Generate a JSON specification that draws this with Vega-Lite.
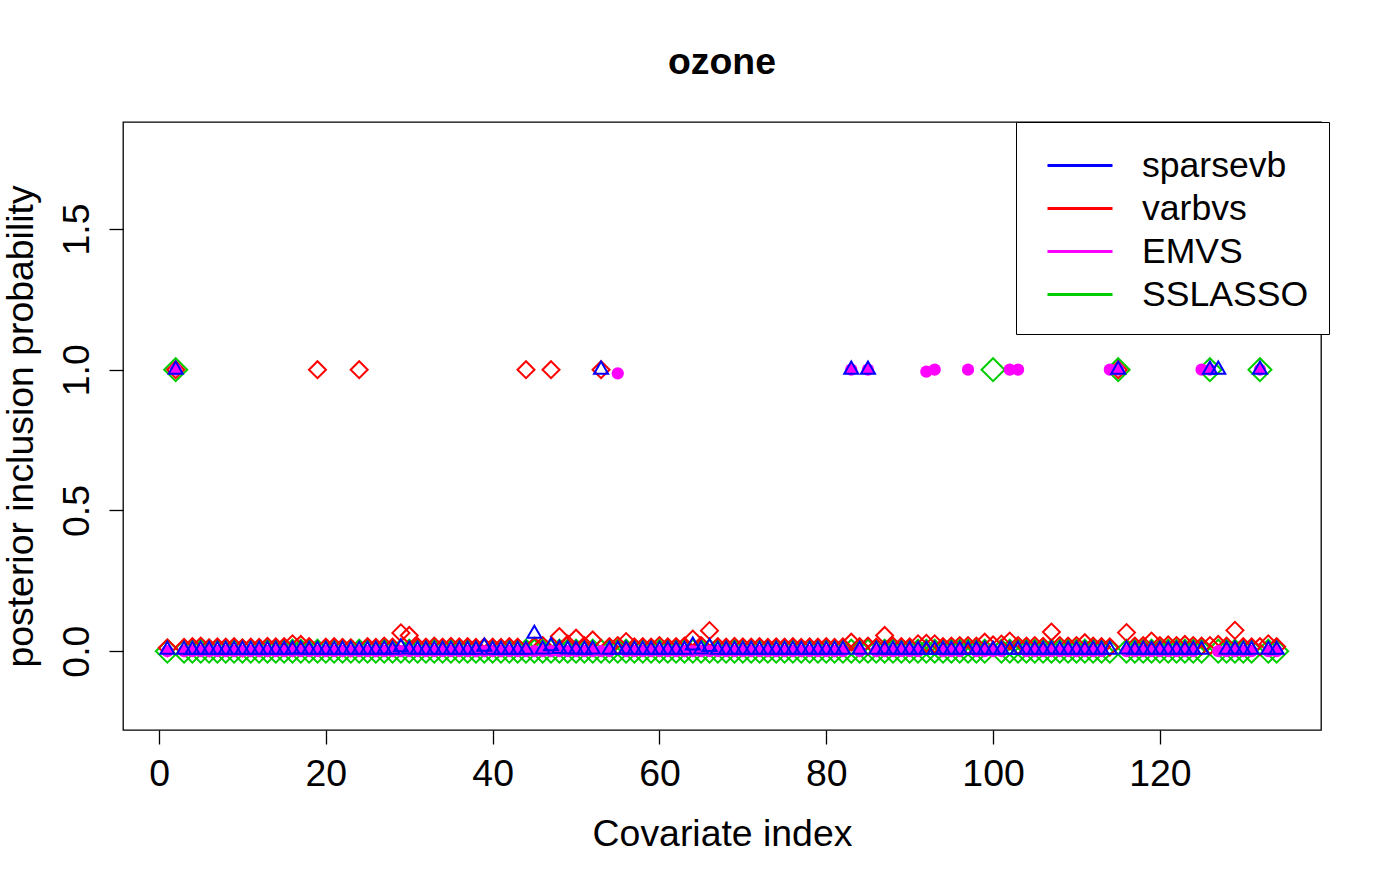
{
  "$schema": "https://vega.github.io/schema/vega-lite/v6.json",
  "width": 1198,
  "height": 608,
  "autosize": {"type": "none"},
  "padding": {"left": 123, "top": 122, "right": 63, "bottom": 154},
  "background": "white",
  "title": {"text": "ozone", "fontSize": 37.4, "fontWeight": "bold", "font": "Liberation Sans", "color": "black", "anchor": "middle", "baseline": "alphabetic", "offset": 10},
  "data": {"values": [
    {"i":1,"sparsevb":0.005,"varbvs":0.012,"EMVS":0,"SSLASSO":0},
    {"i":2,"sparsevb":1,"varbvs":1,"EMVS":1,"SSLASSO":1},
    {"i":3,"sparsevb":0.005,"varbvs":0.013,"EMVS":0,"SSLASSO":0},
    {"i":4,"sparsevb":0.005,"varbvs":0.016,"EMVS":0,"SSLASSO":0},
    {"i":5,"sparsevb":0.005,"varbvs":0.018,"EMVS":0,"SSLASSO":0},
    {"i":6,"sparsevb":0.005,"varbvs":0.012,"EMVS":0,"SSLASSO":0},
    {"i":7,"sparsevb":0.005,"varbvs":0.015,"EMVS":0,"SSLASSO":0},
    {"i":8,"sparsevb":0.005,"varbvs":0.014,"EMVS":0,"SSLASSO":0},
    {"i":9,"sparsevb":0.005,"varbvs":0.016,"EMVS":0,"SSLASSO":0},
    {"i":10,"sparsevb":0.005,"varbvs":0.012,"EMVS":0,"SSLASSO":0},
    {"i":11,"sparsevb":0.005,"varbvs":0.014,"EMVS":0,"SSLASSO":0},
    {"i":12,"sparsevb":0.005,"varbvs":0.013,"EMVS":0,"SSLASSO":0},
    {"i":13,"sparsevb":0.005,"varbvs":0.017,"EMVS":0,"SSLASSO":0},
    {"i":14,"sparsevb":0.005,"varbvs":0.015,"EMVS":0,"SSLASSO":0},
    {"i":15,"sparsevb":0.005,"varbvs":0.016,"EMVS":0,"SSLASSO":0},
    {"i":16,"sparsevb":0.006,"varbvs":0.026,"EMVS":0,"SSLASSO":0},
    {"i":17,"sparsevb":0.006,"varbvs":0.024,"EMVS":0,"SSLASSO":0},
    {"i":18,"sparsevb":0.005,"varbvs":0.016,"EMVS":0,"SSLASSO":0},
    {"i":19,"sparsevb":0.005,"varbvs":1,"EMVS":0,"SSLASSO":0},
    {"i":20,"sparsevb":0.005,"varbvs":0.014,"EMVS":0,"SSLASSO":0},
    {"i":21,"sparsevb":0.005,"varbvs":0.016,"EMVS":0,"SSLASSO":0},
    {"i":22,"sparsevb":0.005,"varbvs":0.013,"EMVS":0,"SSLASSO":0},
    {"i":23,"sparsevb":0.005,"varbvs":0.012,"EMVS":0,"SSLASSO":0},
    {"i":24,"sparsevb":0.005,"varbvs":1,"EMVS":0,"SSLASSO":0},
    {"i":25,"sparsevb":0.005,"varbvs":0.016,"EMVS":0,"SSLASSO":0},
    {"i":26,"sparsevb":0.005,"varbvs":0.013,"EMVS":0,"SSLASSO":0},
    {"i":27,"sparsevb":0.006,"varbvs":0.018,"EMVS":0,"SSLASSO":0},
    {"i":28,"sparsevb":0.005,"varbvs":0.014,"EMVS":0,"SSLASSO":0},
    {"i":29,"sparsevb":0.014,"varbvs":0.065,"EMVS":0,"SSLASSO":0},
    {"i":30,"sparsevb":0.006,"varbvs":0.056,"EMVS":0,"SSLASSO":0},
    {"i":31,"sparsevb":0.005,"varbvs":0.016,"EMVS":0,"SSLASSO":0},
    {"i":32,"sparsevb":0.005,"varbvs":0.014,"EMVS":0,"SSLASSO":0},
    {"i":33,"sparsevb":0.005,"varbvs":0.018,"EMVS":0,"SSLASSO":0},
    {"i":34,"sparsevb":0.005,"varbvs":0.014,"EMVS":0,"SSLASSO":0},
    {"i":35,"sparsevb":0.005,"varbvs":0.017,"EMVS":0,"SSLASSO":0},
    {"i":36,"sparsevb":0.005,"varbvs":0.015,"EMVS":0,"SSLASSO":0},
    {"i":37,"sparsevb":0.005,"varbvs":0.016,"EMVS":0,"SSLASSO":0},
    {"i":38,"sparsevb":0.005,"varbvs":0.013,"EMVS":0,"SSLASSO":0},
    {"i":39,"sparsevb":0.016,"varbvs":0.015,"EMVS":0,"SSLASSO":0},
    {"i":40,"sparsevb":0.005,"varbvs":0.014,"EMVS":0,"SSLASSO":0},
    {"i":41,"sparsevb":0.005,"varbvs":0.013,"EMVS":0,"SSLASSO":0},
    {"i":42,"sparsevb":0.005,"varbvs":0.016,"EMVS":0,"SSLASSO":0},
    {"i":43,"sparsevb":0.005,"varbvs":0.014,"EMVS":0,"SSLASSO":0},
    {"i":44,"sparsevb":0.005,"varbvs":1,"EMVS":0,"SSLASSO":0},
    {"i":45,"sparsevb":0.062,"varbvs":0.018,"EMVS":0,"SSLASSO":0},
    {"i":46,"sparsevb":0.006,"varbvs":0.02,"EMVS":0,"SSLASSO":0},
    {"i":47,"sparsevb":0.018,"varbvs":1,"EMVS":0,"SSLASSO":0},
    {"i":48,"sparsevb":0.008,"varbvs":0.052,"EMVS":0,"SSLASSO":0},
    {"i":49,"sparsevb":0.006,"varbvs":0.025,"EMVS":0,"SSLASSO":0},
    {"i":50,"sparsevb":0.006,"varbvs":0.046,"EMVS":0,"SSLASSO":0},
    {"i":51,"sparsevb":0.005,"varbvs":0.02,"EMVS":0,"SSLASSO":0},
    {"i":52,"sparsevb":0.006,"varbvs":0.04,"EMVS":0,"SSLASSO":0},
    {"i":53,"sparsevb":1,"varbvs":1,"EMVS":0,"SSLASSO":0},
    {"i":54,"sparsevb":0.005,"varbvs":0.016,"EMVS":0,"SSLASSO":0},
    {"i":55,"sparsevb":0.005,"varbvs":0.02,"EMVS":0.987,"SSLASSO":0},
    {"i":56,"sparsevb":0.006,"varbvs":0.034,"EMVS":0,"SSLASSO":0},
    {"i":57,"sparsevb":0.005,"varbvs":0.015,"EMVS":0,"SSLASSO":0},
    {"i":58,"sparsevb":0.005,"varbvs":0.016,"EMVS":0,"SSLASSO":0},
    {"i":59,"sparsevb":0.005,"varbvs":0.014,"EMVS":0,"SSLASSO":0},
    {"i":60,"sparsevb":0.005,"varbvs":0.02,"EMVS":0,"SSLASSO":0},
    {"i":61,"sparsevb":0.005,"varbvs":0.015,"EMVS":0,"SSLASSO":0},
    {"i":62,"sparsevb":0.005,"varbvs":0.016,"EMVS":0,"SSLASSO":0},
    {"i":63,"sparsevb":0.005,"varbvs":0.018,"EMVS":0,"SSLASSO":0},
    {"i":64,"sparsevb":0.02,"varbvs":0.043,"EMVS":0,"SSLASSO":0},
    {"i":65,"sparsevb":0.006,"varbvs":0.02,"EMVS":0,"SSLASSO":0},
    {"i":66,"sparsevb":0.015,"varbvs":0.073,"EMVS":0,"SSLASSO":0},
    {"i":67,"sparsevb":0.005,"varbvs":0.016,"EMVS":0,"SSLASSO":0},
    {"i":68,"sparsevb":0.005,"varbvs":0.014,"EMVS":0,"SSLASSO":0},
    {"i":69,"sparsevb":0.005,"varbvs":0.017,"EMVS":0,"SSLASSO":0},
    {"i":70,"sparsevb":0.005,"varbvs":0.015,"EMVS":0,"SSLASSO":0},
    {"i":71,"sparsevb":0.005,"varbvs":0.014,"EMVS":0,"SSLASSO":0},
    {"i":72,"sparsevb":0.005,"varbvs":0.016,"EMVS":0,"SSLASSO":0},
    {"i":73,"sparsevb":0.005,"varbvs":0.013,"EMVS":0,"SSLASSO":0},
    {"i":74,"sparsevb":0.005,"varbvs":0.015,"EMVS":0,"SSLASSO":0},
    {"i":75,"sparsevb":0.005,"varbvs":0.014,"EMVS":0,"SSLASSO":0},
    {"i":76,"sparsevb":0.005,"varbvs":0.016,"EMVS":0,"SSLASSO":0},
    {"i":77,"sparsevb":0.005,"varbvs":0.013,"EMVS":0,"SSLASSO":0},
    {"i":78,"sparsevb":0.005,"varbvs":0.015,"EMVS":0,"SSLASSO":0},
    {"i":79,"sparsevb":0.005,"varbvs":0.014,"EMVS":0,"SSLASSO":0},
    {"i":80,"sparsevb":0.005,"varbvs":0.016,"EMVS":0,"SSLASSO":0},
    {"i":81,"sparsevb":0.005,"varbvs":0.013,"EMVS":0,"SSLASSO":0},
    {"i":82,"sparsevb":0.005,"varbvs":0.015,"EMVS":0,"SSLASSO":0},
    {"i":83,"sparsevb":1,"varbvs":0.032,"EMVS":1,"SSLASSO":0},
    {"i":84,"sparsevb":0.005,"varbvs":0.016,"EMVS":0,"SSLASSO":0},
    {"i":85,"sparsevb":1,"varbvs":0.018,"EMVS":1,"SSLASSO":0},
    {"i":86,"sparsevb":0.005,"varbvs":0.014,"EMVS":0,"SSLASSO":0},
    {"i":87,"sparsevb":0.006,"varbvs":0.056,"EMVS":0,"SSLASSO":0},
    {"i":88,"sparsevb":0.005,"varbvs":0.018,"EMVS":0,"SSLASSO":0},
    {"i":89,"sparsevb":0.005,"varbvs":0.016,"EMVS":0,"SSLASSO":0},
    {"i":90,"sparsevb":0.005,"varbvs":0.015,"EMVS":0,"SSLASSO":0},
    {"i":91,"sparsevb":0.005,"varbvs":0.026,"EMVS":0,"SSLASSO":0},
    {"i":92,"sparsevb":0.005,"varbvs":0.028,"EMVS":0.993,"SSLASSO":0},
    {"i":93,"sparsevb":0.005,"varbvs":0.026,"EMVS":1,"SSLASSO":0},
    {"i":94,"sparsevb":0.005,"varbvs":0.016,"EMVS":0,"SSLASSO":0},
    {"i":95,"sparsevb":0.005,"varbvs":0.018,"EMVS":0,"SSLASSO":0},
    {"i":96,"sparsevb":0.005,"varbvs":0.02,"EMVS":0,"SSLASSO":0},
    {"i":97,"sparsevb":0.005,"varbvs":0.02,"EMVS":1,"SSLASSO":0},
    {"i":98,"sparsevb":0.005,"varbvs":0.018,"EMVS":0,"SSLASSO":0},
    {"i":99,"sparsevb":0.005,"varbvs":0.032,"EMVS":0,"SSLASSO":0},
    {"i":100,"sparsevb":0.005,"varbvs":0.022,"EMVS":0,"SSLASSO":1},
    {"i":101,"sparsevb":0.005,"varbvs":0.025,"EMVS":0,"SSLASSO":0},
    {"i":102,"sparsevb":0.005,"varbvs":0.036,"EMVS":1,"SSLASSO":0},
    {"i":103,"sparsevb":0.005,"varbvs":0.02,"EMVS":1,"SSLASSO":0},
    {"i":104,"sparsevb":0.005,"varbvs":0.018,"EMVS":0,"SSLASSO":0},
    {"i":105,"sparsevb":0.005,"varbvs":0.02,"EMVS":0,"SSLASSO":0},
    {"i":106,"sparsevb":0.005,"varbvs":0.017,"EMVS":0,"SSLASSO":0},
    {"i":107,"sparsevb":0.006,"varbvs":0.068,"EMVS":0,"SSLASSO":0},
    {"i":108,"sparsevb":0.005,"varbvs":0.02,"EMVS":0,"SSLASSO":0},
    {"i":109,"sparsevb":0.005,"varbvs":0.018,"EMVS":0,"SSLASSO":0},
    {"i":110,"sparsevb":0.005,"varbvs":0.02,"EMVS":0,"SSLASSO":0},
    {"i":111,"sparsevb":0.005,"varbvs":0.03,"EMVS":0,"SSLASSO":0},
    {"i":112,"sparsevb":0.005,"varbvs":0.018,"EMVS":0,"SSLASSO":0},
    {"i":113,"sparsevb":0.005,"varbvs":0.016,"EMVS":0,"SSLASSO":0},
    {"i":114,"sparsevb":0.005,"varbvs":0.015,"EMVS":1,"SSLASSO":0},
    {"i":115,"sparsevb":1,"varbvs":1,"EMVS":1,"SSLASSO":1},
    {"i":116,"sparsevb":0.006,"varbvs":0.066,"EMVS":0,"SSLASSO":0},
    {"i":117,"sparsevb":0.005,"varbvs":0.018,"EMVS":0,"SSLASSO":0},
    {"i":118,"sparsevb":0.005,"varbvs":0.02,"EMVS":0,"SSLASSO":0},
    {"i":119,"sparsevb":0.005,"varbvs":0.036,"EMVS":0,"SSLASSO":0},
    {"i":120,"sparsevb":0.005,"varbvs":0.02,"EMVS":0,"SSLASSO":0},
    {"i":121,"sparsevb":0.005,"varbvs":0.022,"EMVS":0,"SSLASSO":0},
    {"i":122,"sparsevb":0.005,"varbvs":0.02,"EMVS":0,"SSLASSO":0},
    {"i":123,"sparsevb":0.005,"varbvs":0.024,"EMVS":0,"SSLASSO":0},
    {"i":124,"sparsevb":0.005,"varbvs":0.02,"EMVS":0,"SSLASSO":0},
    {"i":125,"sparsevb":0.005,"varbvs":0.018,"EMVS":1,"SSLASSO":0},
    {"i":126,"sparsevb":1,"varbvs":0.02,"EMVS":1,"SSLASSO":1},
    {"i":127,"sparsevb":1,"varbvs":0.024,"EMVS":0,"SSLASSO":0},
    {"i":128,"sparsevb":0.005,"varbvs":0.018,"EMVS":0,"SSLASSO":0},
    {"i":129,"sparsevb":0.006,"varbvs":0.074,"EMVS":0,"SSLASSO":0},
    {"i":130,"sparsevb":0.005,"varbvs":0.016,"EMVS":0,"SSLASSO":0},
    {"i":131,"sparsevb":0.005,"varbvs":0.015,"EMVS":0,"SSLASSO":0},
    {"i":132,"sparsevb":1,"varbvs":0.016,"EMVS":1,"SSLASSO":1},
    {"i":133,"sparsevb":0.005,"varbvs":0.026,"EMVS":0,"SSLASSO":0},
    {"i":134,"sparsevb":0.005,"varbvs":0.016,"EMVS":0,"SSLASSO":0}
  ]},
  "transform": [{"fold": ["sparsevb", "varbvs", "EMVS", "SSLASSO"], "as": ["method", "pip"]}],
  "encoding": {
    "x": {"field": "i", "type": "quantitative",
      "scale": {"domain": [-4.32, 139.32], "nice": false, "zero": false},
      "axis": {"values": [0, 20, 40, 60, 80, 100, 120], "title": "Covariate index", "titleY": 115, "titleBaseline": "alphabetic", "labelFlush": false, "labelOverlap": false, "labelPadding": 11}},
    "y": {"field": "pip", "type": "quantitative",
      "scale": {"domain": [-0.28, 1.88], "nice": false, "zero": false},
      "axis": {"values": [0, 0.5, 1, 1.5], "format": ".1f", "title": "posterior inclusion probability", "labelAngle": -90, "labelAlign": "center", "labelBaseline": "bottom", "labelFlush": false, "labelOverlap": false, "titleAngle": -90, "titleBaseline": "alphabetic", "titleAlign": "center", "titleX": -91, "titleY": 304}}
  },
  "layer": [
    {"transform": [{"filter": "datum.method == 'SSLASSO'"}],
     "mark": {"type": "point", "shape": "diamond", "size": 529, "filled": false, "color": "#00cd00", "strokeWidth": 2, "opacity": 1}},
    {"transform": [{"filter": "datum.method == 'varbvs'"}],
     "mark": {"type": "point", "shape": "diamond", "size": 289, "filled": false, "color": "#ff0000", "strokeWidth": 2, "opacity": 1}},
    {"transform": [{"filter": "datum.method == 'EMVS'"}],
     "mark": {"type": "point", "shape": "circle", "size": 150, "filled": true, "color": "#ff00ff", "strokeWidth": 0, "opacity": 1}},
    {"transform": [{"filter": "datum.method == 'sparsevb'"}],
     "mark": {"type": "point", "shape": "M0,-1.155L1,0.577L-1,0.577Z", "size": 196, "filled": false, "color": "#0000ff", "strokeWidth": 2, "opacity": 1}},
    {"transform": [{"filter": "datum.i == 1"}],
     "mark": {"type": "line", "strokeWidth": 3},
     "encoding": {
       "color": {"field": "method", "type": "nominal",
         "scale": {"domain": ["sparsevb", "varbvs", "EMVS", "SSLASSO"], "range": ["#0000ff", "#ff0000", "#ff00ff", "#00cd00"]},
         "legend": {"title": null, "orient": "none", "legendX": 893, "legendY": 0, "direction": "vertical",
           "strokeColor": "black", "fillColor": "white", "padding": 20, "rowPadding": -1,
           "symbolType": "M-1.477,0H1.477", "symbolSize": 1936, "symbolStrokeWidth": 3, "symbolOffset": 20.5,
           "labelOffset": 38.5, "labelFontSize": 35.6, "labelFont": "Liberation Sans", "labelColor": "black", "labelLimit": 400}}
     }}
  ],
  "config": {
    "font": "Liberation Sans",
    "view": {"stroke": "black", "strokeWidth": 1.3},
    "axis": {"domain": false, "grid": false, "ticks": true, "tickColor": "black", "tickWidth": 1.3, "tickSize": 14,
      "labelFontSize": 37.4, "labelColor": "black", "labelPadding": 13, "labelFont": "Liberation Sans",
      "titleFontSize": 37.4, "titleFontWeight": "normal", "titleColor": "black", "titleFont": "Liberation Sans"}
  }
}
